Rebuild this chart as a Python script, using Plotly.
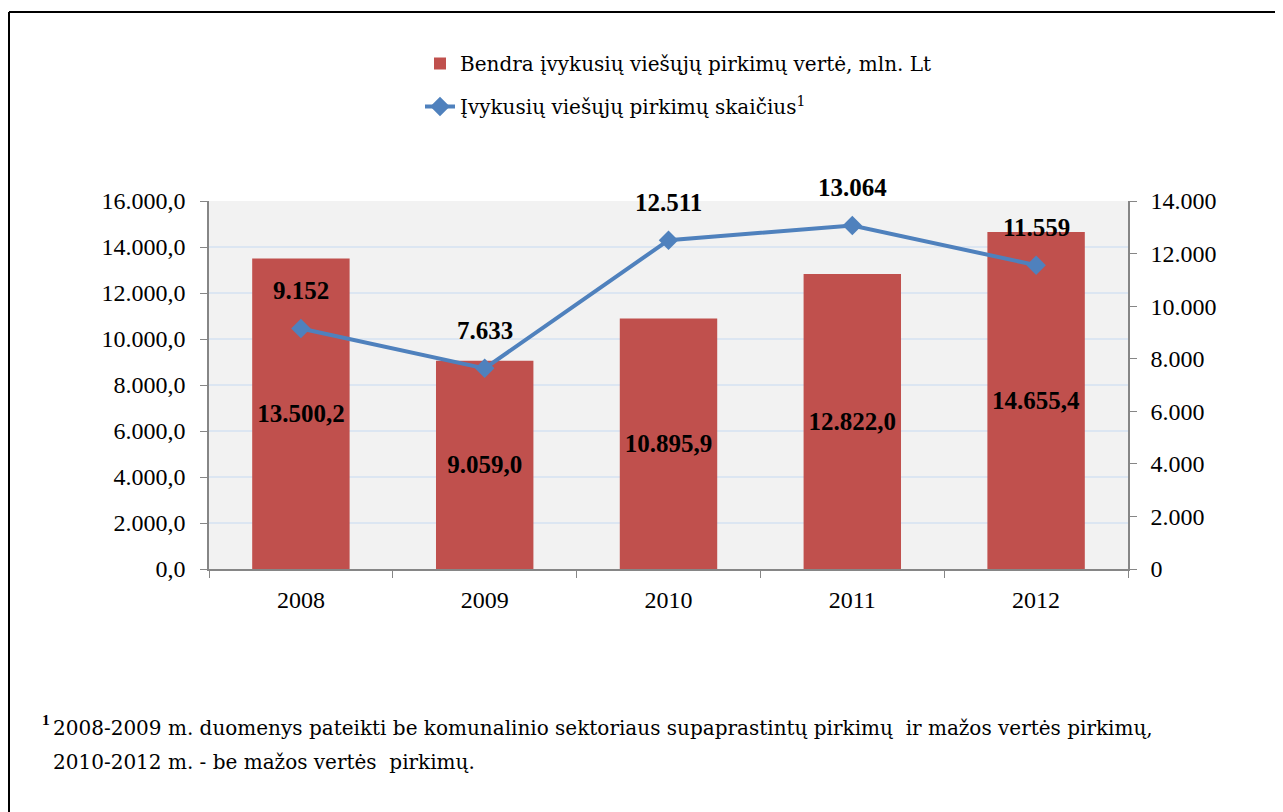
import plotly.graph_objects as go

years = ["2008", "2009", "2010", "2011", "2012"]
value_mln_lt = [13500.2, 9059.0, 10895.9, 12822.0, 14655.4]
count_purchases = [9152, 7633, 12511, 13064, 11559]

bar_name = "Bendra \u012fvykusi\u0173 vie\u0161\u0173j\u0173 pirkim\u0173 vert\u0117, mln. Lt"
line_name = "\u012evykusi\u0173 vie\u0161\u0173j\u0173 pirkim\u0173 skai\u010dius<sup>1</sup>"
footnote_1 = ("2008-2009 m. duomenys pateikti be komunalinio sektoriaus supaprastint\u0173 pirkim\u0173"
              "\u00a0 ir ma\u017eos vert\u0117s pirkim\u0173,")
footnote_2 = "2010-2012 m. - be ma\u017eos vert\u0117s\u00a0 pirkim\u0173."

FONT = "Liberation Serif, Times New Roman, serif"
TEXT_FONT = "DejaVu Serif, Liberation Serif, serif"

W, H = 1283, 812
OFF = 8  # page body margin
L = 209 - OFF
T = 201 - OFF
R = W - (1128 - OFF)
B = H - (569 - OFF)
PW, PH = W - L - R, H - T - B

def px(x):
    return (x - OFF - L) / PW

def py(y):
    return (H - B - (y - OFF)) / PH

fig = go.Figure()
fig.add_trace(go.Bar(
    x=years, y=value_mln_lt, name=bar_name, legendgroup="a",
    marker=dict(color="#C0504D", line=dict(width=0)),
    texttemplate="<b>%{y:,.1f}</b>", textposition="inside",
    insidetextanchor="middle",
    textfont=dict(family=FONT, size=25, color="black"),
    textangle=0,
))
fig.add_trace(go.Scatter(
    x=years, y=count_purchases, name=line_name, legendgroup="b",
    yaxis="y2", mode="lines+markers",
    line=dict(color="#4F81BD", width=4),
    marker=dict(symbol="diamond", size=15, color="#4F81BD"),
))

annotations = []
for i, c in enumerate(count_purchases):
    annotations.append(dict(
        x=i, y=c, xref="x", yref="y2", text="<b>" + f"{c:,}".replace(",", ".") + "</b>",
        showarrow=False, yshift=38, font=dict(family=FONT, size=25, color="black"),
    ))

annotations.append(dict(
    x=px(40), y=py(719), xref="paper", yref="paper", xanchor="left", yanchor="middle",
    text="<b><sup>1</sup></b>", showarrow=False, font=dict(family=FONT, size=22, color="black"),
))
annotations.append(dict(
    x=px(51), y=py(728), xref="paper", yref="paper", xanchor="left", yanchor="middle",
    text=footnote_1, showarrow=False, font=dict(family=TEXT_FONT, size=20, color="black"),
))
annotations.append(dict(
    x=px(51), y=py(762), xref="paper", yref="paper", xanchor="left", yanchor="middle",
    text=footnote_2, showarrow=False, font=dict(family=TEXT_FONT, size=20, color="black"),
))

shapes = [
    dict(type="line", xref="paper", yref="paper", x0=px(9), x1=px(1300), y0=py(12), y1=py(12),
         line=dict(color="black", width=2)),
    dict(type="line", xref="paper", yref="paper", x0=px(9), x1=px(9), y0=py(12), y1=py(830),
         line=dict(color="black", width=2)),
]

fig.update_layout(
    width=W, height=H,
    margin=dict(l=L, r=R, t=T, b=B, autoexpand=False),
    paper_bgcolor="white", plot_bgcolor="#F2F2F2",
    separators=",.",
    bargap=0.47,
    font=dict(family=FONT, size=24, color="black"),
    showlegend=True,
    legend=dict(x=px(420), y=py(44), xanchor="left", yanchor="top",
                traceorder="grouped", tracegroupgap=14,
                font=dict(family=TEXT_FONT, size=20, color="black"),
                bgcolor="rgba(0,0,0,0)"),
    xaxis=dict(type="category", showgrid=False, ticks="outside", tickson="boundaries",
               ticklen=7, tickcolor="#868686", showline=True, linecolor="#868686",
               linewidth=1.5, ticklabelstandoff=8, tickfont=dict(family=FONT, size=24)),
    yaxis=dict(range=[0, 16000], dtick=2000, tickformat=",.1f", showgrid=True,
               gridcolor="#DCE6F2", gridwidth=1.5, ticks="outside", ticklen=7,
               tickcolor="#868686", showline=True, linecolor="#868686", linewidth=1.5,
               zeroline=False, ticklabelstandoff=10, tickfont=dict(family=FONT, size=24)),
    yaxis2=dict(range=[0, 14000], dtick=2000, tickformat=",d", overlaying="y", side="right",
                showgrid=False, ticks="outside", ticklen=7, tickcolor="#868686",
                showline=True, linecolor="#868686", linewidth=1.5, zeroline=False,
                ticklabelstandoff=9, tickfont=dict(family=FONT, size=24)),
    annotations=annotations,
    shapes=shapes,
)

fig.write_html("out.html")
